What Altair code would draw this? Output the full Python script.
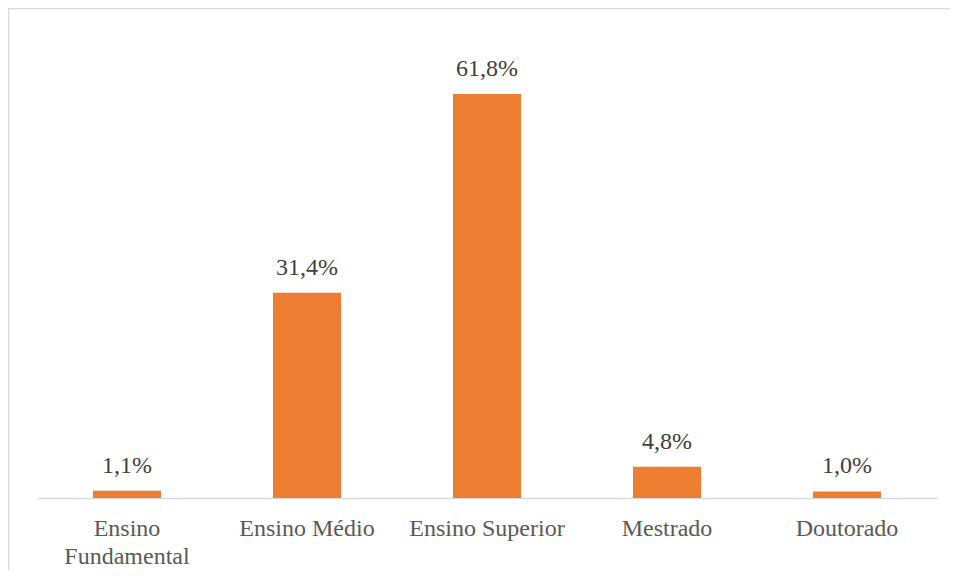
import altair as alt
import pandas as pd

categories = ["Ensino Fundamental", "Ensino Médio", "Ensino Superior", "Mestrado", "Doutorado"]
values = [1.1, 31.4, 61.8, 4.8, 1.0]

df = pd.DataFrame({
    "cat": categories,
    "val": values,
    "lbl": [f"{v:.1f}".replace(".", ",") + "%" for v in values],
})

FONT = "Liberation Serif"

x_enc = alt.X(
    "cat:N",
    sort=categories,
    title=None,
    scale=alt.Scale(paddingInner=0.622, paddingOuter=0.311),
    axis=alt.Axis(
        labelAngle=0,
        labelFont=FONT,
        labelFontSize=24,
        labelColor="#595959",
        labelPadding=18,
        labelLineHeight=28,
        labelLimit=400,
        labelExpr="datum.label == 'Ensino Fundamental' ? ['Ensino', 'Fundamental'] : datum.label",
        ticks=False,
        tickSize=0,
        domainColor="#D9D9D9",
        domainWidth=1.5,
        grid=False,
    ),
)
yscale = alt.Scale(domain=[0, 71.6], nice=False)
y_enc = alt.Y("val:Q", title=None, scale=yscale, axis=None)

bars = alt.Chart(df).mark_bar(color="#ED7D31").encode(x=x_enc, y=y_enc)
labels = alt.Chart(df).mark_text(
    font=FONT, fontSize=24, color="#404040", baseline="alphabetic", dy=-18
).encode(x=alt.X("cat:N", sort=categories), y=alt.Y("val:Q", scale=yscale), text="lbl:N")

border = alt.Chart(pd.DataFrame({"a": [0]})).mark_rect(
    fill="transparent", stroke="#D9D9D9", strokeWidth=1.5
).encode(
    x=alt.value(-28.5), x2=alt.value(2000),
    y=alt.value(-21.5), y2=alt.value(2000),
)

chart = alt.layer(border, bars, labels).properties(
    width=900,
    height=468,
    autosize=alt.AutoSizeParams(type="none"),
    padding={"left": 29, "top": 22, "right": 13, "bottom": 72},
).configure(background="white", font=FONT).configure_view(stroke=None)

chart.save("out.html", embed_options={"renderer": "svg", "actions": False})
